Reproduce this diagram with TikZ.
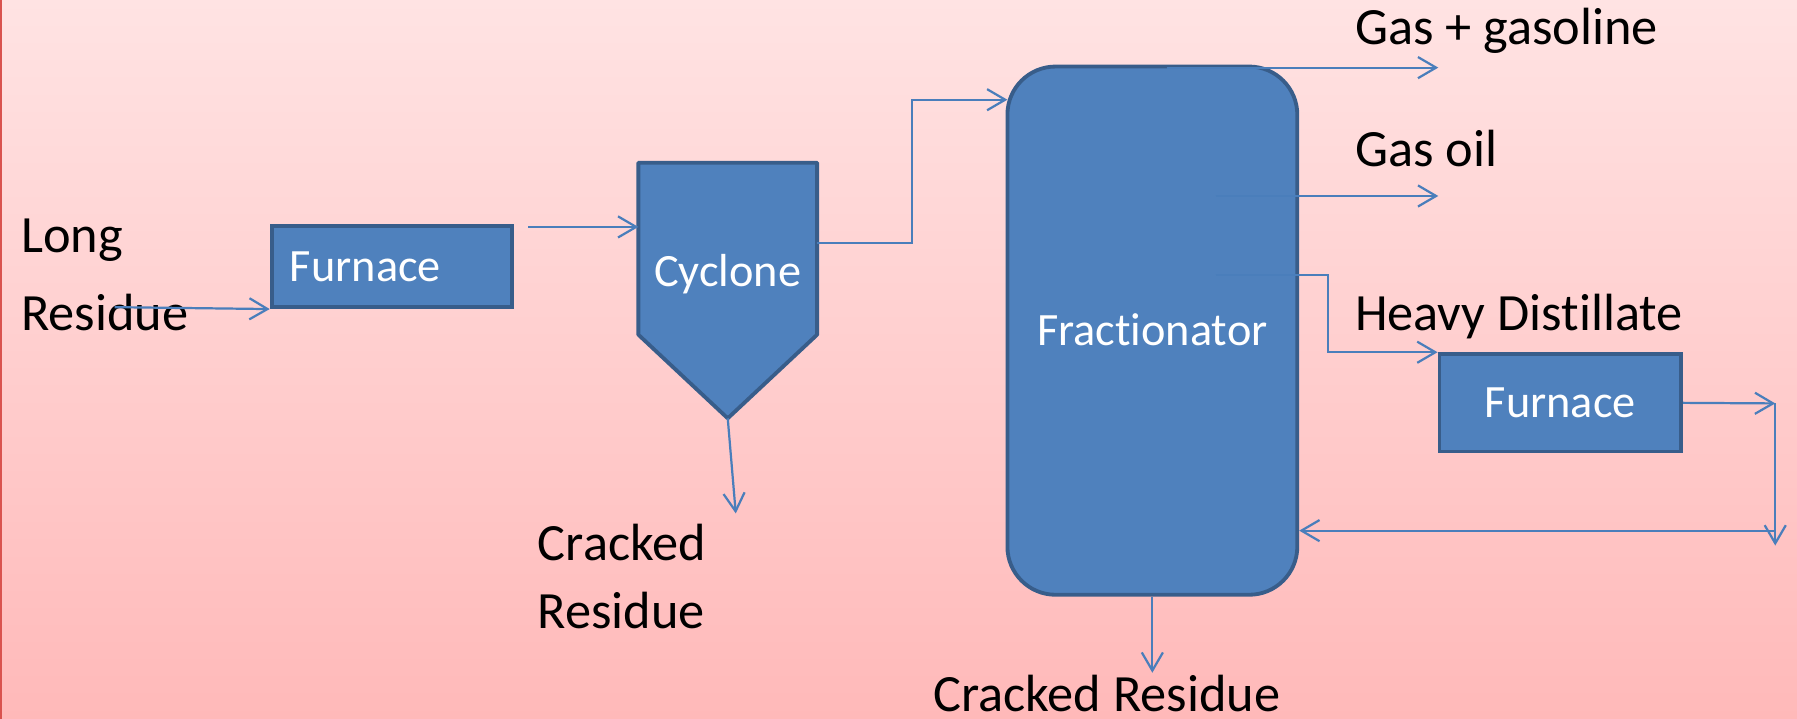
\documentclass[tikz,border=0pt]{standalone}
\usepackage{fontspec}
\setmainfont{Carlito}[Ligatures=NoCommon]
\usetikzlibrary{arrows.meta}
\definecolor{unitblue}{HTML}{4F81BD}
\definecolor{unitedge}{HTML}{385D8A}
\definecolor{pipeblue}{HTML}{4A7EBB}
\definecolor{bgtop}{HTML}{FFE3E3}
\definecolor{bgbottom}{HTML}{FFB9B9}
\definecolor{slideedge}{HTML}{D9534F}
\tikzset{
>={Straight Barb[length=9pt,width=10.5pt]}, % open arrow heads
x=0.02cm, y=-0.02cm, % one unit is one pixel of the slide, y runs downwards
vessel/.style={draw=unitedge, fill=unitblue, line width=1.9pt}, % equipment shapes
inside/.style={text=white, font=\fontsize{23}{27}\selectfont, text height=0.51cm, text depth=0pt}, % names on the equipment
pipe/.style={->, draw=pipeblue, line width=1.1pt}, % flow lines
tag/.style={inner sep=0pt, font=\fontsize{26}{30}\selectfont}, % stream names
}

\begin{document}
\begin{tikzpicture}
    \shade[top color=bgtop, bottom color=bgbottom] (0,0) rectangle (1568,627);
    \useasboundingbox (0,0) rectangle (1568,627);
    \draw[slideedge, line width=0.04cm] (1,0) -- (1,627);

    \node[vessel, inside, minimum width=4.2cm, minimum height=1.42cm, text width=3.56cm, inner xsep=0.32cm, align=left] (furnA) at (342,232.5) {Furnace};
    \draw[vessel, line join=round] (557,142) -- (713,142) -- (713,292) -- (635,365) -- (557,292) -- cycle;
    \node[inside, anchor=base] (cyclone) at (635,250) {Cyclone};
    \node[vessel, inside, rounded corners=0.84cm, minimum width=5.06cm, minimum height=9.22cm] (frac) at (1005.5,288.5) {Fractionator};
    \node[vessel, inside, minimum width=4.22cm, minimum height=1.7cm] (furnB) at (1361.5,351.5) {Furnace};

    \node[tag, align=left, anchor=base west, font=\fontsize{26}{38.4}\selectfont] (feed) at (18,288) {Long\\Residue};
    \node[tag, align=left, anchor=base west, font=\fontsize{26}{33.7}\selectfont] (cycres) at (469,548) {Cracked\\Residue};
    \node[tag, anchor=base west] (gas) at (1182,39) {Gas + gasoline};
    \node[tag, anchor=base west] (oil) at (1182,145) {Gas oil};
    \node[tag, anchor=base west] (heavy) at (1182,288) {Heavy Distillate};
    \node[tag, anchor=base west] (bottoms) at (814,621) {Cracked Residue};

    \coordinate (feedin) at (100,268);
    \coordinate (furnAout) at (461,198);
    \coordinate (cycin) at (557,198);
    \coordinate (cycout) at (713,212);
    \coordinate (riser) at (796,87);
    \coordinate (fracin) at (879,87);
    \coordinate (cycbot) at (635,365);
    \coordinate (cycdrop) at (642,448);
    \coordinate (gastap) at (1018,59);
    \coordinate (gasend) at (1255,59);
    \coordinate (oiltap) at (1061,171);
    \coordinate (oilend) at (1255,171);
    \coordinate (hdtap) at (1061,240);
    \coordinate (hdturn) at (1159,240);
    \coordinate (loopturn) at (1549,352);
    \coordinate (loopend) at (1549,476);
    \coordinate (loopback) at (1549,463);
    \coordinate (fracdrop) at (1005.5,587);

    \draw[pipe] (feedin) -- (furnA.south west);
    \draw[pipe] (furnAout) -- (cycin);
    \draw[pipe] (cycout) -| (riser) -- (fracin);
    \draw[pipe] (cycbot) -- (cycdrop);
    \draw[pipe] (gastap) -- (gasend);
    \draw[pipe] (oiltap) -- (oilend);
    \draw[pipe] (hdtap) -- (hdturn) |- (furnB.north west);
    \draw[pipe] (furnB.east) -- (loopturn);
    \draw[pipe] (loopturn) -- (loopend);
    \draw[pipe] (loopback) -- (frac.east |- loopback);
    \draw[pipe] (frac.south) -- (fracdrop);
\end{tikzpicture}
\end{document}
